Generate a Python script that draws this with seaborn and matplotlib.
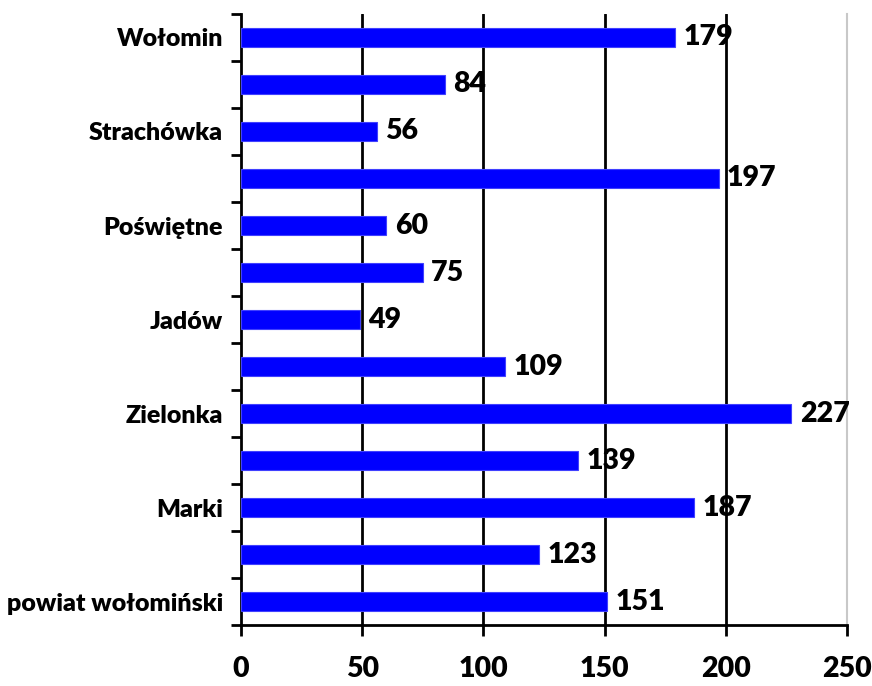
import matplotlib
matplotlib.use("Agg")
import matplotlib.pyplot as plt
import seaborn as sns
import pandas as pd
import numpy as np
from matplotlib.ticker import FixedLocator

categories = ["Wołomin", "Tłuszcz", "Strachówka", "Radzymin", "Poświętne", "Klembów",
              "Jadów", "Dąbrówka", "Zielonka", "Ząbki", "Marki", "Kobyłka",
              "powiat wołomiński"]
values = [179, 84, 56, 197, 60, 75, 49, 109, 227, 139, 187, 123, 151]
shown_labels = ["Wołomin", "", "Strachówka", "", "Poświętne", "", "Jadów", "",
                "Zielonka", "", "Marki", "", "powiat wołomiński"]
x_ticks = [0, 50, 100, 150, 200, 250]

df = pd.DataFrame({"gmina": categories, "wartosc": values})

sns.set_theme(style="white")
plt.rcParams["font.family"] = ["Lato", "DejaVu Sans"]

W = "heavy"

fig = plt.figure(figsize=(8.72, 6.86), dpi=100)
ax = fig.add_axes([0.2764, 0.0889, 0.9713 - 0.2764, 0.9796 - 0.0889])

sns.barplot(data=df, x="wartosc", y="gmina", order=categories, orient="h",
            color="#0000ff", saturation=1, width=0.4, ax=ax,
            edgecolor="#4040ff", linewidth=0.8, zorder=3)

ax.set_xlim(0, 250)
ax.set_ylim(len(categories) - 0.5, -0.5)
ax.set_xlabel("")
ax.set_ylabel("")

for i, v in enumerate(values):
    ax.text(v + 3.5, i, str(v), va="center", ha="left", fontsize=20.5,
            fontweight=W, color="black", zorder=4)

ax.set_xticks(x_ticks)
ax.set_xticklabels([str(t) for t in x_ticks], fontsize=20.5, fontweight=W)
for t in x_ticks[1:-1]:
    ax.axvline(t, color="black", lw=2, zorder=1)

ax.set_yticks(range(len(categories)))
ax.set_yticklabels(shown_labels, fontsize=18, fontweight=W)
ax.yaxis.set_minor_locator(FixedLocator(np.arange(-0.5, len(categories), 1.0)))
ax.tick_params(axis="y", which="major", length=0, pad=13, colors="black")
ax.tick_params(axis="y", which="minor", left=True, length=7, width=2, color="black")
ax.tick_params(axis="x", which="major", bottom=True, length=8, width=2,
               color="black", pad=14, labelcolor="black")

ax.spines["top"].set_visible(False)
ax.spines["left"].set_color("black")
ax.spines["left"].set_linewidth(2)
ax.spines["bottom"].set_color("black")
ax.spines["bottom"].set_linewidth(2)
ax.spines["right"].set_color("#c8c8c8")
ax.spines["right"].set_linewidth(1.5)

fig.savefig("out.png", dpi=100, facecolor="white")
